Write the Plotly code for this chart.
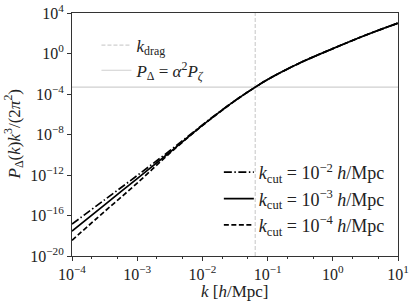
import numpy as np
import plotly.graph_objects as go

# log10 k [h/Mpc] sample points
log_k = [-4, -3.5, -3, -2.5, -2, -1.5, -1.19, -1, -0.5, 0, 0.5, 1]

# log10 of P_Delta(k) k^3 / (2 pi^2) for each cutoff
log_p_cut2 = [-16.85, -14.45, -12.05, -9.6, -7.05, -4.65, -3.33, -2.57, -0.92, 0.48, 1.8, 3.0]
log_p_cut3 = [-17.55, -14.95, -12.35, -9.75, -7.1, -4.66, -3.33, -2.57, -0.92, 0.48, 1.8, 3.0]
log_p_cut4 = [-18.45, -15.6, -12.8, -9.85, -7.12, -4.67, -3.33, -2.57, -0.92, 0.48, 1.8, 3.0]

k_drag = 0.0646
alpha2_pzeta = 4.7e-4

x_range = [1e-4, 1e1]
y_range = [1e-20, 1e4]

x_ticks = [1e-4, 1e-3, 1e-2, 1e-1, 1e0, 1e1]
x_ticktext = ["10<sup>−4</sup>", "10<sup>−3</sup>", "10<sup>−2</sup>",
              "10<sup>−1</sup>", "10<sup>0</sup>", "10<sup>1</sup>"]
y_ticks = [1e-20, 1e-16, 1e-12, 1e-8, 1e-4, 1e0, 1e4]
y_ticktext = ["10<sup>−20</sup>", "10<sup>−16</sup>", "10<sup>−12</sup>",
              "10<sup>−8</sup>", "10<sup>−4</sup>", "10<sup>0</sup>", "10<sup>4</sup>"]

k = 10 ** np.array(log_k)
font = "Liberation Serif"
grey = "#cfcfcf"

fig = go.Figure()

# reference lines (top-left legend)
fig.add_trace(go.Scatter(x=[k_drag, k_drag], y=y_range, mode="lines",
                         line=dict(color=grey, width=1.2, dash="4px,2px"),
                         name="<i>k</i><sub>drag</sub>", legend="legend"))
fig.add_trace(go.Scatter(x=x_range, y=[alpha2_pzeta, alpha2_pzeta], mode="lines",
                         line=dict(color=grey, width=1.2),
                         name="<i>P</i><sub>Δ</sub> = <i>α</i><sup>2</sup><i>P</i><sub><i>ζ</i></sub>",
                         legend="legend"))

# power spectra (bottom-right legend)
series = [
    (log_p_cut2, "8px,2.5px,1.5px,2.5px", "<i>k</i><sub>cut</sub> = 10<sup>−2</sup> <i>h</i>/Mpc"),
    (log_p_cut3, "solid", "<i>k</i><sub>cut</sub> = 10<sup>−3</sup> <i>h</i>/Mpc"),
    (log_p_cut4, "5px,2.5px", "<i>k</i><sub>cut</sub> = 10<sup>−4</sup> <i>h</i>/Mpc"),
]
for vals, dash, label in series:
    fig.add_trace(go.Scatter(x=k, y=10 ** np.array(vals), mode="lines",
                             line=dict(color="black", width=1.7, dash=dash, shape="spline"),
                             name=label, legend="legend2"))

axis_common = dict(type="log", showgrid=False, zeroline=False, showline=True,
                   linecolor="#333333", linewidth=1, mirror=True, automargin=False,
                   ticks="outside", ticklen=4, tickcolor="#333333",
                   tickfont=dict(family=font, size=16, color="#222222"))

fig.update_layout(
    width=416, height=306,
    margin=dict(l=72, r=18, t=13, b=50),
    paper_bgcolor="white", plot_bgcolor="white",
    font=dict(family=font, size=16, color="#222222"),
    xaxis=dict(axis_common, range=[-4, 1], tickvals=x_ticks, ticktext=x_ticktext,
               minor=dict(ticks="outside", ticklen=2, tickcolor="#333333", showgrid=False)),
    yaxis=dict(axis_common, range=[-20, 4], tickvals=y_ticks, ticktext=y_ticktext),
    legend=dict(x=0.075, y=0.94, xanchor="left", yanchor="top", bgcolor="rgba(0,0,0,0)",
                font=dict(family=font, size=17), tracegroupgap=0, itemwidth=30),
    legend2=dict(x=0.975, y=0.42, xanchor="right", yanchor="top", bgcolor="rgba(0,0,0,0)",
                 font=dict(family=font, size=18), tracegroupgap=0, itemwidth=30),
)

# axis titles as annotations so they sit where the reference has them
fig.add_annotation(text="<i>k</i> [<i>h</i>/Mpc]", xref="paper", yref="paper",
                   x=0.5, y=-0.148, xanchor="center", yanchor="middle", showarrow=False,
                   font=dict(family=font, size=17))
fig.add_annotation(text="<i>P</i><sub>Δ</sub>(<i>k</i>)<i>k</i><sup>3</sup>/(2<i>π</i><sup>2</sup>)",
                   xref="paper", yref="paper", x=-0.178, y=0.5, xanchor="center",
                   yanchor="middle", textangle=-90, showarrow=False,
                   font=dict(family=font, size=17))

# drop the default page margin so the figure fills the window, and hide the modebar
fig.write_html("out.html", config={"displayModeBar": False},
               post_script="document.body.style.margin='0';")
